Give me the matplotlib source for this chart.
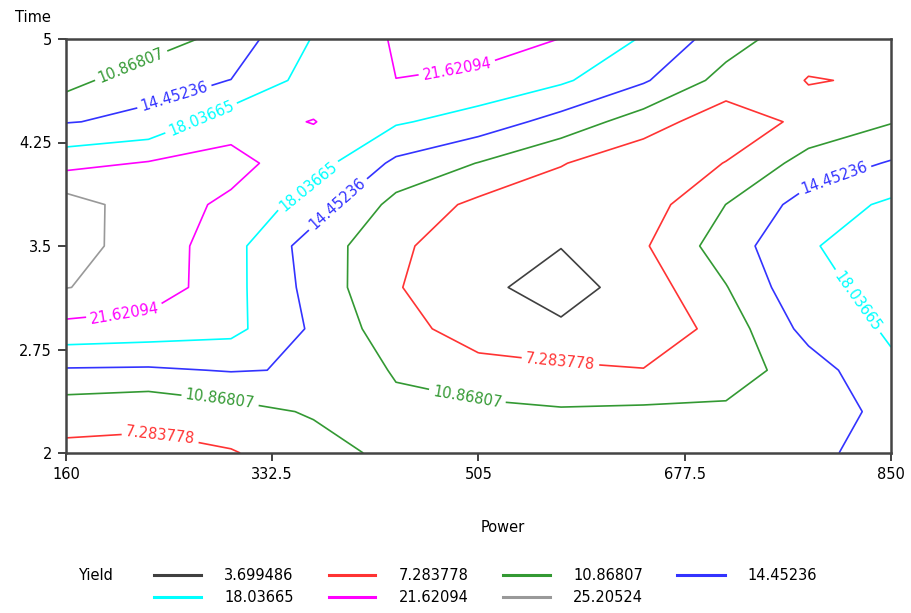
import numpy as np
import matplotlib
matplotlib.use("Agg")
import matplotlib.pyplot as plt
from matplotlib.lines import Line2D

plt.rcParams["font.family"] = ["DejaVu Sans"]

# grid of the yield surface
power = [160, 229, 298, 367, 436, 505, 574, 643, 712, 781, 850]
time = [2.0, 2.3, 2.6, 2.9, 3.2, 3.5, 3.8, 4.1, 4.4, 4.7, 5.0]

# one row per time value, one column per power value
yield_rows = [
    [6.5, 6.7, 7.03, 9.3, 11.9, 12.5, 12.5, 12.3, 13.0, 13.5, 16.07],
    [8.65, 7.9, 9.54, 11.25, 11.77, 11.74, 11.22, 11.52, 11.53, 13.0, 15.23],
    [14.11, 13.99, 14.65, 14.2, 10.5, 8.64, 8.0, 7.44, 9.0, 12.74, 17.45],
    [20.5, 19.94, 19.1, 13.9, 8.76, 5.4, 4.3, 4.26, 8.91, 15.66, 18.5],
    [25.3, 23.9, 19.2, 13.2, 7.53, 4.54, 2.2, 5.36, 10.7, 17.5, 18.65],
    [26.3, 23.94, 19.3, 12.7, 8.3, 3.87, 3.8, 6.87, 12.74, 17.6, 20.7],
    [27.0, 23.2, 21.0, 16.3, 9.7, 6.47, 5.0, 5.5, 10.9, 16.06, 18.66],
    [20.45, 21.9, 22.7, 19.57, 13.7, 10.75, 7.5, 4.75, 7.4, 12.3, 14.75],
    [14.28, 15.2, 20.28, 21.75, 18.44, 16.5, 13.08, 9.06, 5.0, 8.3, 10.67],
    [9.54, 13.34, 14.5, 19.63, 21.6, 20.5, 18.6, 14.88, 9.54, 7.16, 7.57],
    [8.5, 8.66, 12.4, 18.27, 22.0, 23.7, 21.55, 17.7, 12.54, 8.4, 8.5],
]

levels = [3.699486, 7.283778, 10.86807, 14.45236, 18.03665, 21.62094, 25.20524]
level_text = ["3.699486", "7.283778", "10.86807", "14.45236", "18.03665", "21.62094", "25.20524"]
line_colors = ["#404040", "#ff3333", "#339933", "#3333ff", "#00ffff", "#ff00ff", "#999999"]

# where each level gets its inline labels (Power, Time)
label_spots = {
    1: [(238.6, 2.116), (573.1, 2.63)],
    2: [(219.4, 4.703), (288.8, 2.377), (494.5, 2.362)],
    3: [(252.8, 4.522), (385.0, 3.826), (803.1, 3.978)],
    4: [(273.7, 4.413), (360.7, 3.957), (815.7, 3.058)],
    5: [(487.0, 4.79), (209.3, 3.007)],
}

xticks = [160, 332.5, 505, 677.5, 850]
yticks = [2, 2.75, 3.5, 4.25, 5]

W, H = 912, 613
fig = plt.figure(figsize=(W / 100, H / 100), dpi=100)
ax = fig.add_axes([66 / W, 1 - 453 / H, 825 / W, 414 / H])

Z = np.array(yield_rows)
for i, lvl in enumerate(levels):
    cs = ax.contour(power, time, Z, levels=[lvl], colors=[line_colors[i]], linewidths=1.2)
    if i in label_spots:
        ax.clabel(cs, fmt={lvl: level_text[i]}, manual=label_spots[i], inline=True,
                  inline_spacing=4, fontsize=10.5, colors=[line_colors[i]])

ax.set_xlim(160, 850)
ax.set_ylim(2, 5)
ax.set_xticks(xticks)
ax.set_xticklabels(["160", "332.5", "505", "677.5", "850"])
ax.set_yticks(yticks)
ax.set_yticklabels(["2", "2.75", "3.5", "4.25", "5"])
ax.tick_params(direction="out", length=6, width=1.3, color="#333333",
               labelsize=10.5, pad=4)
for s in ax.spines.values():
    s.set_linewidth(1.8)
    s.set_color("#444444")

fig.text(33 / W, 1 - 17 / H, "Time", ha="center", va="center", fontsize=10.5)
fig.text(503 / W, 1 - 527 / H, "Power", ha="center", va="center", fontsize=10.5)

# legend laid out row by row, four entries per row
fig.text(95 / W, 1 - 575 / H, "Yield", ha="center", va="center", fontsize=10.5)
for i, txt in enumerate(level_text):
    col, row = i % 4, i // 4
    x0 = 154 + col * 174.5
    y = 1 - (575 + row * 22) / H
    fig.add_artist(Line2D([x0 / W, (x0 + 47) / W], [y, y], color=line_colors[i], lw=2.2))
    fig.text((x0 + 70) / W, y, txt, ha="left", va="center", fontsize=10.5)

fig.savefig("out.png", dpi=100)
